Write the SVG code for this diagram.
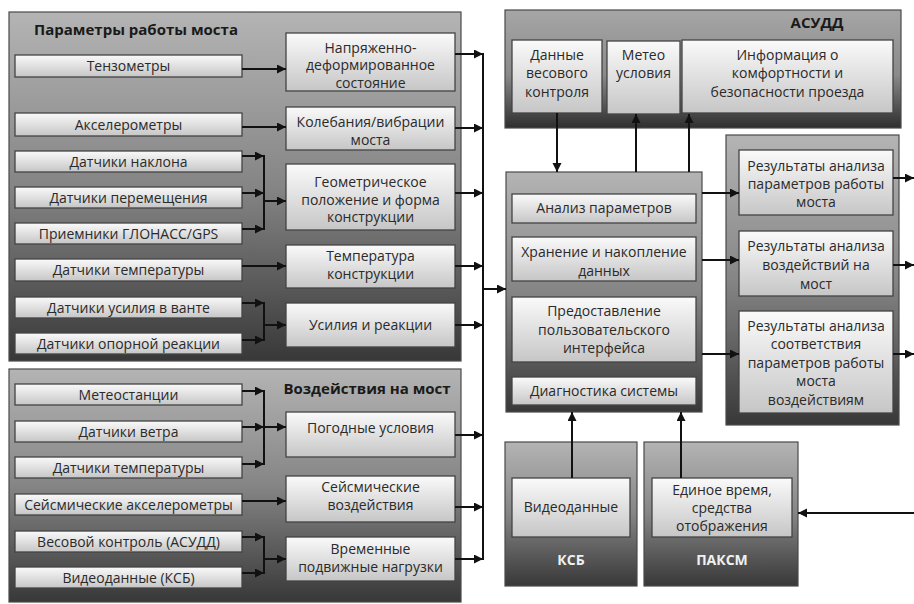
<svg xmlns="http://www.w3.org/2000/svg" width="914" height="604" viewBox="0 0 914 604">
<defs>
<linearGradient id="gPanel" x1="0" y1="0" x2="0" y2="1">
<stop offset="0" stop-color="#b4b4b4"/>
<stop offset="0.5" stop-color="#858585"/>
<stop offset="1" stop-color="#383838"/>
</linearGradient>
<linearGradient id="gTop" x1="0" y1="0" x2="0" y2="1">
<stop offset="0" stop-color="#a6a6a6"/>
<stop offset="0.55" stop-color="#8a8a8a"/>
<stop offset="1" stop-color="#2e2e2e"/>
</linearGradient>
<linearGradient id="gBox" x1="0" y1="0" x2="0" y2="1">
<stop offset="0" stop-color="#fafafa"/>
<stop offset="1" stop-color="#c6c6c6"/>
</linearGradient>
<marker id="ah" markerUnits="userSpaceOnUse" markerWidth="10" markerHeight="10" refX="9" refY="4.5" orient="auto">
<path d="M0,0 L9,4.5 L0,9 z" fill="#111"/>
</marker>
</defs>
<style>
.panel{fill:url(#gPanel);stroke:#4a4a4a;stroke-width:1.2}
.panelT{fill:url(#gTop);stroke:#4a4a4a;stroke-width:1.2}
.box{fill:url(#gBox);stroke:#444;stroke-width:1.3}
text{font-family:"Open Sans","Noto Sans","Liberation Sans",sans-serif;font-size:14px;fill:#2a2a2a;text-anchor:middle}
.title{font-weight:bold;font-size:15px;fill:#1a1a1a}
.lbl{font-weight:bold;font-size:14px;fill:#f0f0f0}
.c{fill:none;stroke:#111;stroke-width:2}
.a{fill:none;stroke:#111;stroke-width:2;marker-end:url(#ah)}
</style>

<g id="panel-params">
<rect class="panel" x="9" y="12" width="452" height="349"/>
<text class="title" x="136" y="35">Параметры работы моста</text>
</g>
<g id="panel-impacts">
<rect class="panel" x="9" y="369" width="452" height="233"/>
<text class="title" x="367" y="394">Воздействия на мост</text>
</g>
<g id="panel-asudd">
<rect class="panelT" x="505" y="10" width="396" height="118"/>
<text class="title" x="817" y="28">АСУДД</text>
</g>
<g id="panel-center">
<rect class="panel" x="506" y="172" width="196" height="240"/>
</g>
<g id="panel-results">
<rect class="panel" x="726" y="135" width="173" height="290"/>
</g>
<g id="panel-ksb">
<rect class="panel" x="505" y="442" width="132" height="144"/>
<text class="lbl" x="571" y="565">КСБ</text>
</g>
<g id="panel-paksm">
<rect class="panel" x="644" y="442" width="154" height="144"/>
<text class="lbl" x="722" y="565">ПАКСМ</text>
</g>

<g id="n-tenzo"><rect class="box" x="15" y="55" width="227" height="22"/><text x="128.5" y="71">Тензометры</text></g>
<g id="n-accel"><rect class="box" x="15" y="113" width="227" height="23"/><text x="128.5" y="129.5">Акселерометры</text></g>
<g id="n-tilt"><rect class="box" x="15" y="151" width="227" height="21"/><text x="128.5" y="166.5">Датчики наклона</text></g>
<g id="n-disp"><rect class="box" x="15" y="187" width="227" height="21"/><text x="128.5" y="202.5">Датчики перемещения</text></g>
<g id="n-gps"><rect class="box" x="15" y="223" width="227" height="21"/><text x="128.5" y="238.5">Приемники ГЛОНАСС/GPS</text></g>
<g id="n-temp1"><rect class="box" x="15" y="259" width="227" height="22"/><text x="128.5" y="275">Датчики температуры</text></g>
<g id="n-stay"><rect class="box" x="15" y="297" width="227" height="21"/><text x="128.5" y="312.5">Датчики усилия в ванте</text></g>
<g id="n-support"><rect class="box" x="15" y="333" width="227" height="21"/><text x="128.5" y="348.5">Датчики опорной реакции</text></g>

<g id="n-stress"><rect class="box" x="286" y="33" width="169" height="58"/><text x="370.5" y="52.5">Напряженно-</text><text x="370.5" y="70">деформированное</text><text x="370.5" y="87.5">состояние</text></g>
<g id="n-vib"><rect class="box" x="286" y="107" width="169" height="43"/><text x="370.5" y="127">Колебания/вибрации</text><text x="370.5" y="145">моста</text></g>
<g id="n-geom"><rect class="box" x="286" y="164" width="169" height="66"/><text x="370.5" y="187">Геометрическое</text><text x="370.5" y="204.5">положение и форма</text><text x="370.5" y="222">конструкции</text></g>
<g id="n-tconst"><rect class="box" x="286" y="245" width="169" height="43"/><text x="370.5" y="261">Температура</text><text x="370.5" y="279">конструкции</text></g>
<g id="n-forces"><rect class="box" x="286" y="303" width="169" height="44"/><text x="370.5" y="330">Усилия и реакции</text></g>

<g id="n-meteo"><rect class="box" x="15" y="384" width="227" height="21"/><text x="128.5" y="399.5">Метеостанции</text></g>
<g id="n-wind"><rect class="box" x="15" y="421" width="227" height="21"/><text x="128.5" y="436.5">Датчики ветра</text></g>
<g id="n-temp2"><rect class="box" x="15" y="457" width="227" height="21"/><text x="128.5" y="472.5">Датчики температуры</text></g>
<g id="n-seisacc"><rect class="box" x="15" y="494" width="227" height="21"/><text x="128.5" y="509.5">Сейсмические акселерометры</text></g>
<g id="n-weight"><rect class="box" x="15" y="531" width="227" height="21"/><text x="128.5" y="546.5">Весовой контроль (АСУДД)</text></g>
<g id="n-video1"><rect class="box" x="15" y="567" width="227" height="21"/><text x="128.5" y="582.5">Видеоданные (КСБ)</text></g>

<g id="n-weather"><rect class="box" x="286" y="412" width="169" height="45"/><text x="370.5" y="433">Погодные условия</text></g>
<g id="n-seis"><rect class="box" x="286" y="476" width="169" height="46"/><text x="370.5" y="492">Сейсмические</text><text x="370.5" y="510">воздействия</text></g>
<g id="n-loads"><rect class="box" x="286" y="537" width="169" height="44"/><text x="370.5" y="554">Временные</text><text x="370.5" y="572">подвижные нагрузки</text></g>

<g id="n-wdata"><rect class="box" x="512" y="40" width="90" height="73"/><text x="557" y="60">Данные</text><text x="557" y="78">весового</text><text x="557" y="97">контроля</text></g>
<g id="n-meteocond"><rect class="box" x="607" y="41" width="73" height="73"/><text x="643.5" y="60">Метео</text><text x="643.5" y="78">условия</text></g>
<g id="n-info"><rect class="box" x="682" y="40" width="211" height="73"/><text x="787.5" y="60">Информация о</text><text x="787.5" y="78">комфортности и</text><text x="787.5" y="97">безопасности проезда</text></g>

<g id="n-analysis"><rect class="box" x="512" y="194" width="184" height="29"/><text x="604" y="213">Анализ параметров</text></g>
<g id="n-storage"><rect class="box" x="512" y="237" width="184" height="44"/><text x="604" y="257">Хранение и накопление</text><text x="604" y="276">данных</text></g>
<g id="n-ui"><rect class="box" x="512" y="297" width="184" height="65"/><text x="604" y="316">Предоставление</text><text x="604" y="335">пользовательского</text><text x="604" y="353">интерфейса</text></g>
<g id="n-diag"><rect class="box" x="512" y="377" width="184" height="28"/><text x="604" y="396">Диагностика системы</text></g>

<g id="n-res1"><rect class="box" x="739" y="150" width="154" height="65"/><text x="816" y="171">Результаты анализа</text><text x="816" y="189">параметров работы</text><text x="816" y="207">моста</text></g>
<g id="n-res2"><rect class="box" x="739" y="231" width="154" height="65"/><text x="816" y="251">Результаты анализа</text><text x="816" y="270">воздействий на</text><text x="816" y="289">мост</text></g>
<g id="n-res3"><rect class="box" x="739" y="311" width="154" height="102"/><text x="816" y="331">Результаты анализа</text><text x="816" y="349">соответствия</text><text x="816" y="368">параметров работы</text><text x="816" y="386">моста</text><text x="816" y="405">воздействиям</text></g>

<g id="n-video2"><rect class="box" x="512" y="478" width="118" height="59"/><text x="571" y="512">Видеоданные</text></g>
<g id="n-time"><rect class="box" x="652" y="478" width="140" height="59"/><text x="722" y="495">Единое время,</text><text x="722" y="513">средства</text><text x="722" y="531">отображения</text></g>

<g id="connectors">
<path class="a" d="M242,69 H286"/>
<path class="a" d="M242,127 H286"/>
<path class="a" d="M242,156 H264"/>
<path class="a" d="M242,193 H264"/>
<path class="a" d="M242,229 H264"/>
<path class="c" d="M264,155 V230"/>
<path class="a" d="M264,201 H286"/>
<path class="a" d="M242,266 H286"/>
<path class="a" d="M242,303 H264"/>
<path class="a" d="M242,340 H264"/>
<path class="c" d="M264,302 V341"/>
<path class="a" d="M264,325 H286"/>

<path class="a" d="M242,391 H264"/>
<path class="a" d="M242,427 H264"/>
<path class="a" d="M242,464 H264"/>
<path class="c" d="M264,390 V465"/>
<path class="a" d="M264,427 H286"/>
<path class="a" d="M242,501 H286"/>
<path class="a" d="M242,537 H264"/>
<path class="a" d="M242,573 H264"/>
<path class="c" d="M264,536 V574"/>
<path class="a" d="M264,559 H286"/>

<path class="a" d="M455,54 H483"/>
<path class="a" d="M455,128 H483"/>
<path class="a" d="M455,193 H483"/>
<path class="a" d="M455,266 H483"/>
<path class="a" d="M455,325 H483"/>
<path class="a" d="M455,435 H483"/>
<path class="a" d="M455,507 H483"/>
<path class="a" d="M455,559 H483"/>
<path class="c" d="M483,53 V560"/>
<path class="a" d="M483,289 H506"/>

<path class="a" d="M557,113 V172"/>
<path class="a" d="M636,172 V114"/>
<path class="a" d="M689,172 V114"/>

<path class="a" d="M702,193 H739"/>
<path class="a" d="M702,260 H739"/>
<path class="a" d="M702,354 H739"/>
<path class="a" d="M893,178 H914"/>
<path class="a" d="M893,265 H914"/>
<path class="a" d="M893,354 H914"/>

<path class="a" d="M572,478 V412"/>
<path class="a" d="M681,478 V412"/>
<path class="a" d="M914,513 H798"/>
</g>
</svg>
